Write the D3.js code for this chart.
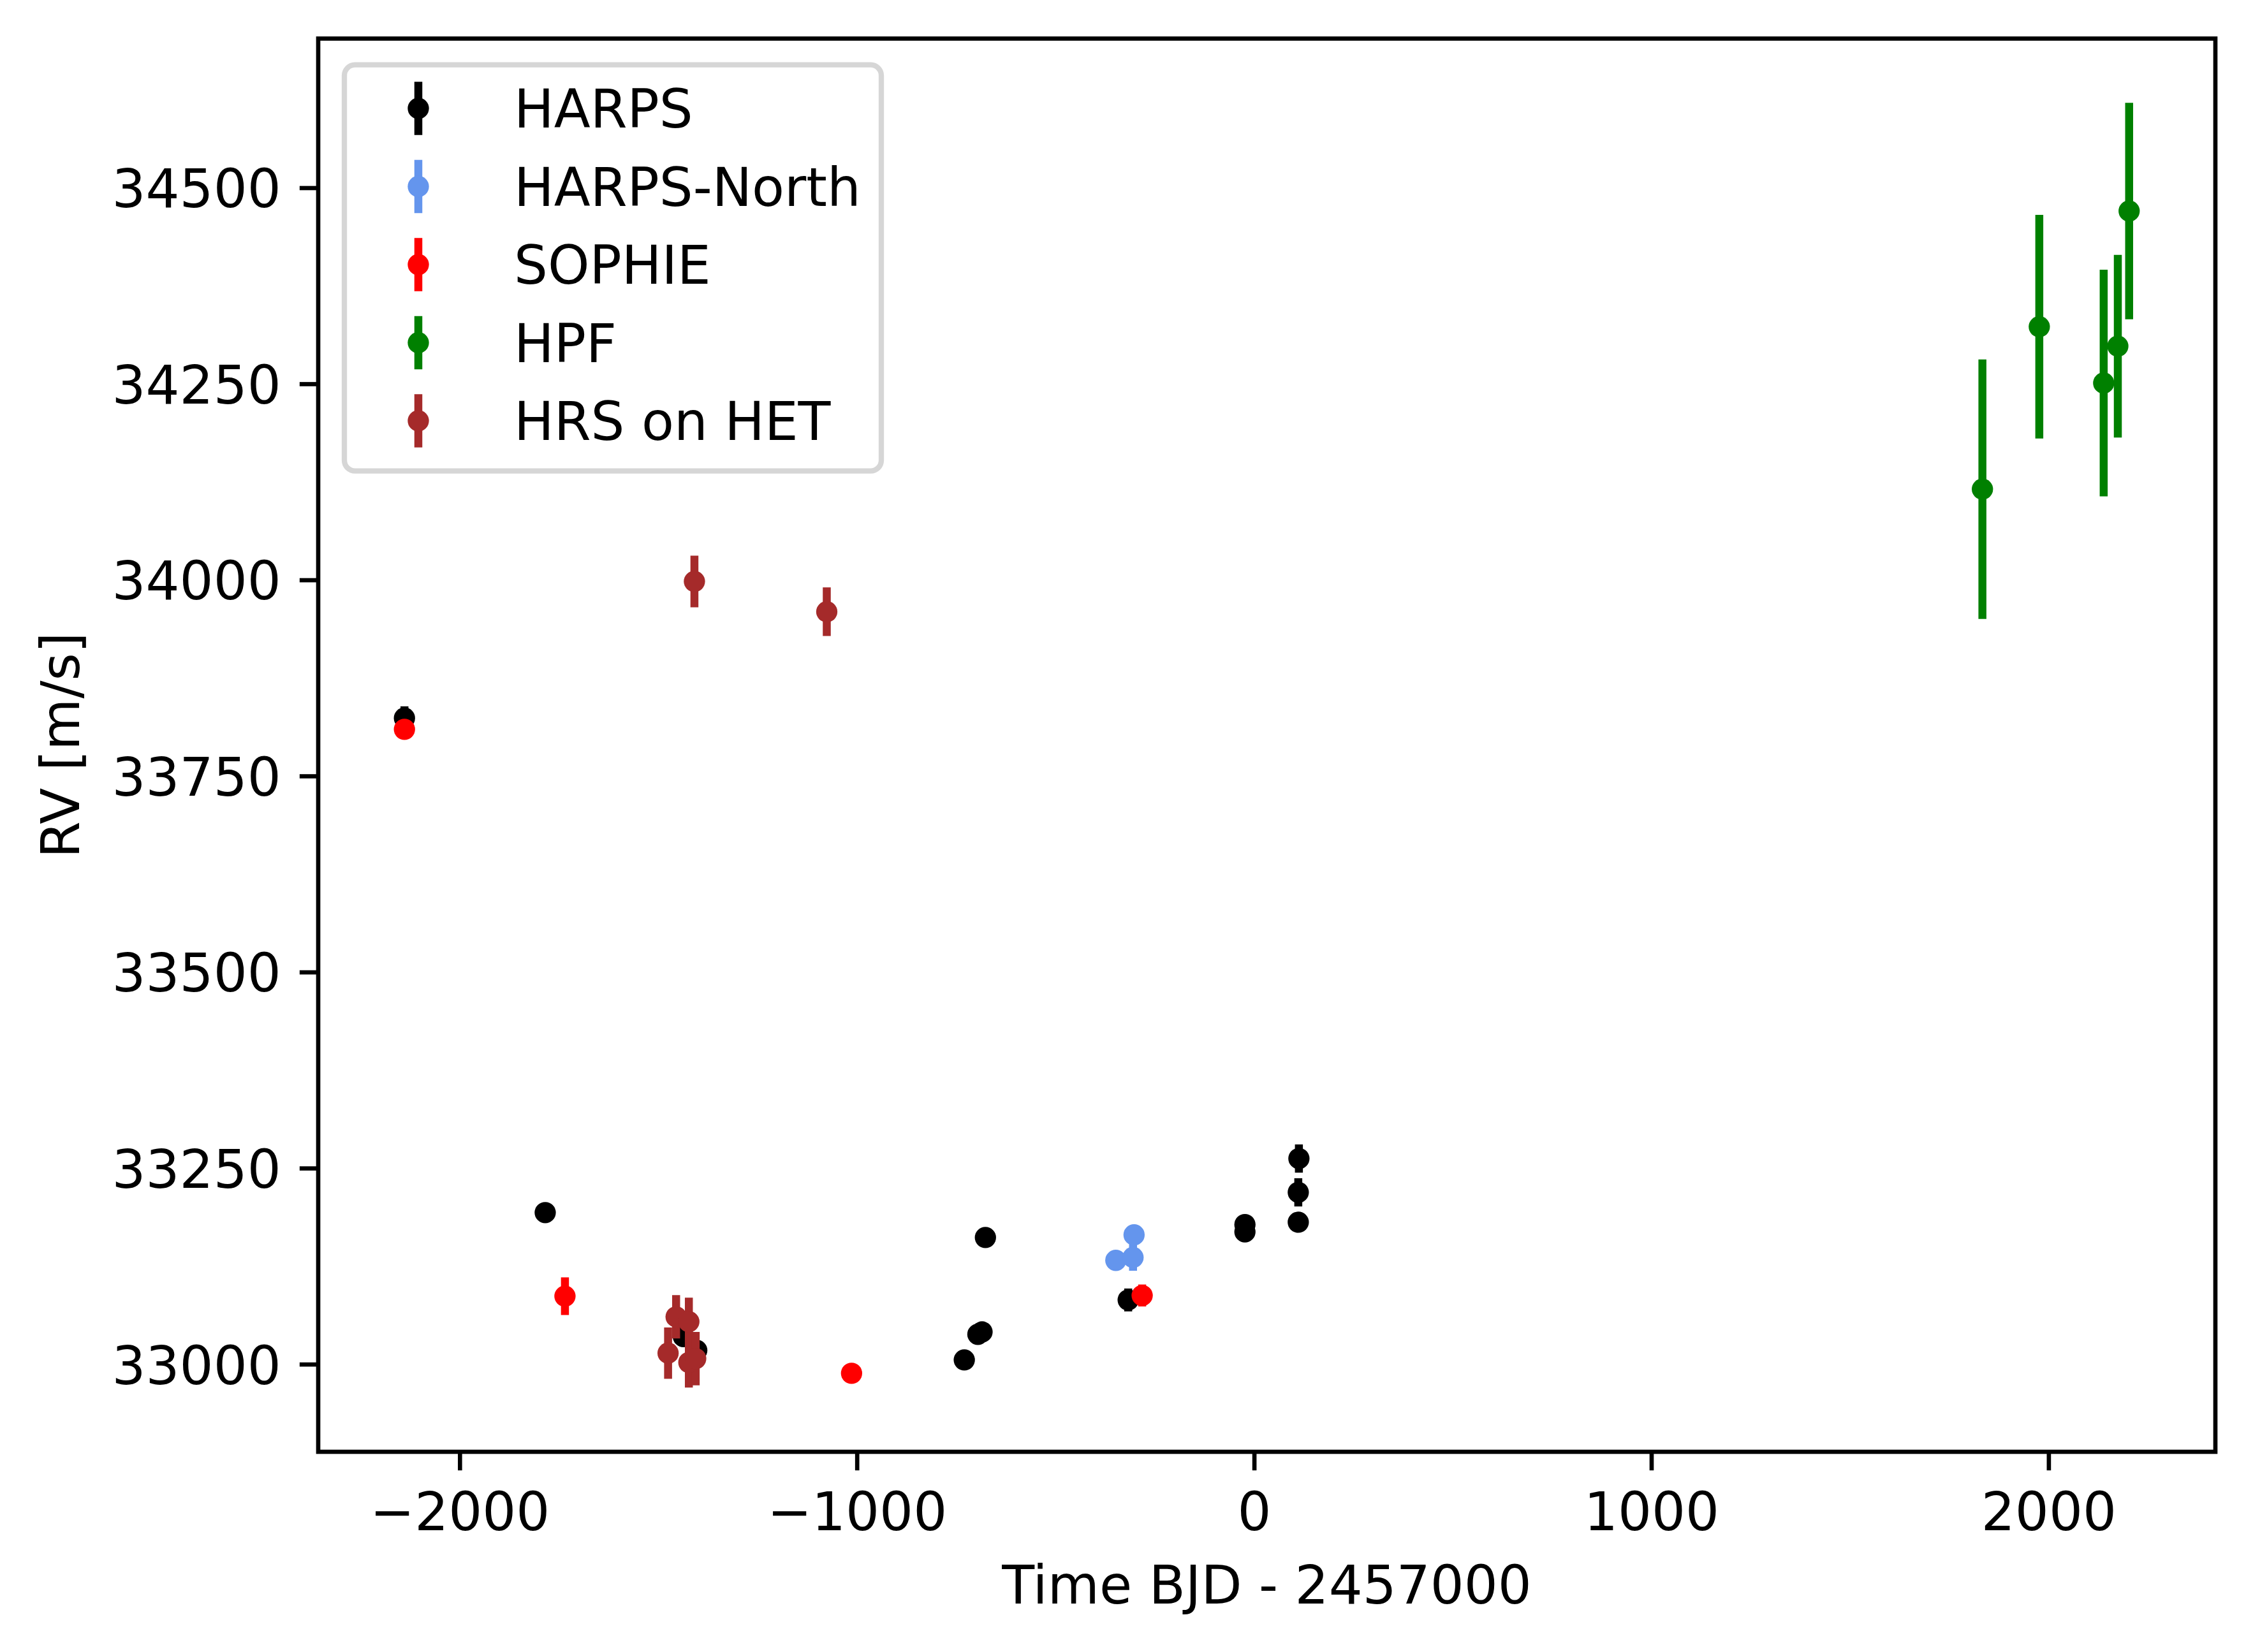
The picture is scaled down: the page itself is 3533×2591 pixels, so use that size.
<!doctype HTML>
<html>
<head>
    <style>
        body { margin: 0; background: #fff; }
        text { font-family: "DejaVu Sans", sans-serif; }
    </style>
    <script src="https://d3js.org/d3.v7.min.js"></script>
</head>
<body>
<script>
    // radial velocities, time in BJD - 2457000
    var harpsT   = [-2139, -1784.6, -1436.8, -1403.1, -729.6, -695.4, -684.9, -676.4, -317, -23.1, -23.1, 112.8, 111.2, 111.2];
    var harpsRV  = [33823.8, 33193.3, 33035.2, 33017.6, 33005.4, 33038.1, 33041.1, 33161.5, 33081.9, 33178, 33168.7, 33262.2, 33219.1, 33181];
    var harpsErr = [15, 5, 6, 6, 5, 5, 5, 5, 14.6, 5, 5, 18, 18, 6];

    var harpsNT   = [-348.1, -304.8, -302.2];
    var harpsNRV  = [33132.4, 33136.1, 33164.9];
    var harpsNErr = [5, 17, 6];

    var sophieT   = [-2139, -1734.9, -1013.4, -281.8];
    var sophieRV  = [33809.5, 33086.7, 32988.4, 33087.6];
    var sophieErr = [8, 24, 5, 14];

    var hpfT   = [1833.5, 1976.7, 2138.8, 2174.4, 2202.9];
    var hpfRV  = [34115.7, 34322.8, 34251, 34298, 34470.3];
    var hpfErr = [165.4, 142.6, 144.5, 116.4, 138];

    var hrsT   = [-1475.3, -1455.1, -1423.0, -1423.0, -1405.8, -1409, -1075.8];
    var hrsRV  = [33014.1, 33060.4, 33054.2, 33002.2, 33007.1, 33998, 33959.4];
    var hrsErr = [32.8, 27.6, 30.6, 32, 34.1, 33, 31];

    var labels = ["HARPS", "HARPS-North", "SOPHIE", "HPF", "HRS on HET"];
    var colors = ["black", "cornflowerblue", "red", "green", "brown"];
    var xTicks = [-2000, -1000, 0, 1000, 2000];
    var yTicks = [33000, 33250, 33500, 33750, 34000, 34250, 34500];

    function pack(t, rv, err) {
        return t.map(function(d, i) { return {t: d, rv: rv[i], err: err[i]}; });
    }
    var series = [
        pack(harpsT, harpsRV, harpsErr),
        pack(harpsNT, harpsNRV, harpsNErr),
        pack(sophieT, sophieRV, sophieErr),
        pack(hpfT, hpfRV, hpfErr),
        pack(hrsT, hrsRV, hrsErr)
    ];

    var canvasWidth = 3533;
    var canvasHeight = 2591;
    var pt = 600 / 72;          // figure was saved at 600 dpi
    var fontSize = 10 * pt;
    // plot area (note: "top" is a reserved window property, so prefixed names)
    var plotLeft = 499, plotRight = 3474, plotTop = 60.5, plotBottom = 2277;

    var svg = d3.select("body").append("svg")
        .attr("width", canvasWidth)
        .attr("height", canvasHeight);

    var all = d3.merge(series);
    var xExt = d3.extent(all, function(d) { return d.t; });
    var yExt = [d3.min(all, function(d) { return d.rv - d.err; }),
                d3.max(all, function(d) { return d.rv + d.err; })];
    var xPad = (xExt[1] - xExt[0]) * 0.05;
    var yPad = (yExt[1] - yExt[0]) * 0.05;

    var xScale = d3.scaleLinear()
        .domain([xExt[0] - xPad, xExt[1] + xPad])
        .range([plotLeft, plotRight]);
    var yScale = d3.scaleLinear()
        .domain([yExt[0] - yPad, yExt[1] + yPad])
        .range([plotBottom, plotTop]);

    var minus = function(d) { return String(d).replace("-", "\u2212"); };

    //x axis
    var xAxis = svg.append("g")
        .attr("transform", "translate(0," + plotBottom + ")")
        .call(d3.axisBottom(xScale).tickValues(xTicks).tickFormat(minus)
            .tickSize(3.5 * pt).tickPadding(3.5 * pt));
    //y axis
    var yAxis = svg.append("g")
        .attr("transform", "translate(" + plotLeft + ",0)")
        .call(d3.axisLeft(yScale).tickValues(yTicks).tickFormat(d3.format("d"))
            .tickSize(3.5 * pt).tickPadding(3.5 * pt));

    [xAxis, yAxis].forEach(function(a) {
        a.select(".domain").remove();
        a.selectAll(".tick line").attr("stroke", "black").attr("stroke-width", 0.8 * pt);
        a.selectAll(".tick text")
            .attr("font-family", "DejaVu Sans")
            .attr("font-size", fontSize)
            .attr("fill", "black");
    });
    xAxis.selectAll(".tick text").attr("dy", "0.78em");
    yAxis.selectAll(".tick text").attr("dy", "0.365em");

    //error bars then markers, one instrument after the other
    series.forEach(function(data, k) {
        var g = svg.append("g");
        g.selectAll("line")
            .data(data)
            .enter().append("line")
            .attr("x1", function(d) { return xScale(d.t); })
            .attr("x2", function(d) { return xScale(d.t); })
            .attr("y1", function(d) { return yScale(d.rv - d.err); })
            .attr("y2", function(d) { return yScale(d.rv + d.err); })
            .attr("stroke", colors[k])
            .attr("stroke-width", 1.5 * pt);
        g.selectAll("circle")
            .data(data)
            .enter().append("circle")
            .attr("cx", function(d) { return xScale(d.t); })
            .attr("cy", function(d) { return yScale(d.rv); })
            .attr("r", 2 * pt)
            .attr("fill", colors[k]);
    });

    //frame
    svg.append("rect")
        .attr("x", plotLeft).attr("y", plotTop)
        .attr("width", plotRight - plotLeft).attr("height", plotBottom - plotTop)
        .attr("fill", "none")
        .attr("stroke", "black")
        .attr("stroke-width", 0.8 * pt);

    //axis labels
    svg.append("text")
        .attr("x", (plotLeft + plotRight) / 2)
        .attr("y", 2515)
        .attr("text-anchor", "middle")
        .attr("font-size", fontSize)
        .text("Time BJD - 2457000");

    svg.append("text")
        .attr("transform", "translate(124," + (plotTop + plotBottom) / 2 + ") rotate(-90)")
        .attr("text-anchor", "middle")
        .attr("font-size", fontSize)
        .text("RV [m/s]");

    //legend
    var legend = svg.append("g");
    legend.append("rect")
        .attr("x", 540).attr("y", 101.7)
        .attr("width", 842).attr("height", 637)
        .attr("rx", 2 * pt).attr("ry", 2 * pt)
        .attr("fill", "white").attr("fill-opacity", 0.8)
        .attr("stroke", "#cccccc").attr("stroke-opacity", 0.8)
        .attr("stroke-width", pt);

    var rows = legend.selectAll(".row")
        .data(labels)
        .enter().append("g")
        .attr("class", "row")
        .attr("transform", function(d, i) { return "translate(656," + (170 + i * 122.5) + ")"; });
    rows.append("line")
        .attr("y1", -41.7).attr("y2", 41.7)
        .attr("stroke", function(d, i) { return colors[i]; })
        .attr("stroke-width", 1.5 * pt);
    rows.append("circle")
        .attr("r", 2 * pt)
        .attr("fill", function(d, i) { return colors[i]; });
    rows.append("text")
        .attr("x", 150)
        .attr("y", 0.365 * fontSize)
        .attr("font-size", fontSize)
        .text(function(d) { return d; });
</script>
</body>
</html>
